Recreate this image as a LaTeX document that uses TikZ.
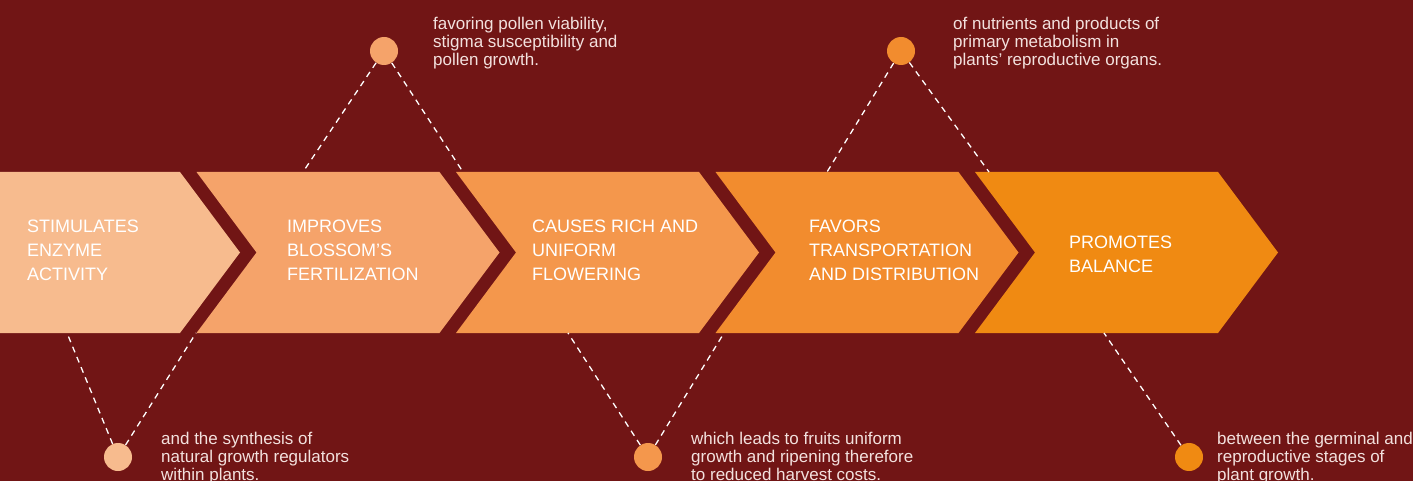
\documentclass[tikz,border=0pt]{standalone}
\usepackage{fontspec}
\setmainfont{Liberation Sans}
\definecolor{bgred}{RGB}{113,21,21}
\definecolor{peach1}{RGB}{247,187,142}
\definecolor{peach2}{RGB}{245,163,106}
\definecolor{peach3}{RGB}{244,151,76}
\definecolor{peach4}{RGB}{242,140,46}
\definecolor{peach5}{RGB}{240,138,18}
\definecolor{notegray}{RGB}{243,225,222}
\tikzset{
  steptext/.style={text=white, anchor=north west, align=left, inner sep=0pt, font=\fontsize{18}{24}\selectfont},
  notebox/.style={text=notegray, anchor=north west, align=left, inner sep=0pt, font=\fontsize{17}{18}\selectfont},
  dot/.style={circle, inner sep=0pt, minimum size=28pt},
  guide/.style={white, dash pattern=on 6pt off 5pt, line width=1.3pt}
}
\begin{document}
\begin{tikzpicture}[x=1pt,y=-1pt]

\useasboundingbox (0,0) rectangle (1413,481);
\clip (0,0) rectangle (1413,481);
\fill [bgred] (0,0) rectangle (1413,481);
\fill [peach1] (-63,172) -- (180,172) -- (240,252.5) -- (180,333) -- (-63,333) -- (-3,252.5) -- cycle;
\fill [peach2] (196.5,172) -- (439.5,172) -- (499.5,252.5) -- (439.5,333) -- (196.5,333) -- (256.5,252.5) -- cycle;
\fill [peach3] (456,172) -- (699,172) -- (759,252.5) -- (699,333) -- (456,333) -- (516,252.5) -- cycle;
\fill [peach4] (715.5,172) -- (958.5,172) -- (1018.5,252.5) -- (958.5,333) -- (715.5,333) -- (775.5,252.5) -- cycle;
\fill [peach5] (975,172) -- (1218,172) -- (1278,252.5) -- (1218,333) -- (975,333) -- (1035,252.5) -- cycle;
\node [steptext] (t1) at (27,220) {STIMULATES\\ENZYME\\ACTIVITY};
\node [steptext] (t2) at (287,220) {IMPROVES\\BLOSSOM'S\\FERTILIZATION};
\node [steptext] (t3) at (532,220) {CAUSES RICH AND\\UNIFORM\\FLOWERING};
\node [steptext] (t4) at (809,220) {FAVORS\\TRANSPORTATION\\AND DISTRIBUTION};
\node [steptext] (t5) at (1069,236) {PROMOTES\\BALANCE};
\node [dot, fill=peach1] (d1) at (118,457) {};
\node [dot, fill=peach2] (d2) at (384,51) {};
\node [dot, fill=peach3] (d3) at (648,457) {};
\node [dot, fill=peach4] (d4) at (901,51) {};
\node [dot, fill=peach5] (d5) at (1189,457) {};
\coordinate (e1a) at (67,333);
\coordinate (e1b) at (196,333);
\coordinate (e2a) at (303,172);
\coordinate (e2b) at (463,172);
\coordinate (e3a) at (568,333);
\coordinate (e3b) at (724,333);
\coordinate (e4a) at (827,172);
\coordinate (e4b) at (989,172);
\coordinate (e5a) at (1104,333);
\draw [guide] (d1) -- (e1a);
\draw [guide] (d1) -- (e1b);
\draw [guide] (d2) -- (e2a);
\draw [guide] (d2) -- (e2b);
\draw [guide] (d3) -- (e3a);
\draw [guide] (d3) -- (e3b);
\draw [guide] (d4) -- (e4a);
\draw [guide] (d4) -- (e4b);
\draw [guide] (d5) -- (e5a);
\node [notebox] (n1) at (161,432) {and the synthesis of\\natural growth regulators\\within plants.};
\node [notebox] (n2) at (433,17) {favoring pollen viability,\\stigma susceptibility and\\pollen growth.};
\node [notebox] (n3) at (691,432) {which leads to fruits uniform\\growth and ripening therefore\\to reduced harvest costs.};
\node [notebox] (n4) at (953,17) {of nutrients and products of\\primary metabolism in\\plants' reproductive organs.};
\node [notebox] (n5) at (1217,432) {between the germinal and\\reproductive stages of\\plant growth.};
\end{tikzpicture}
\end{document}
